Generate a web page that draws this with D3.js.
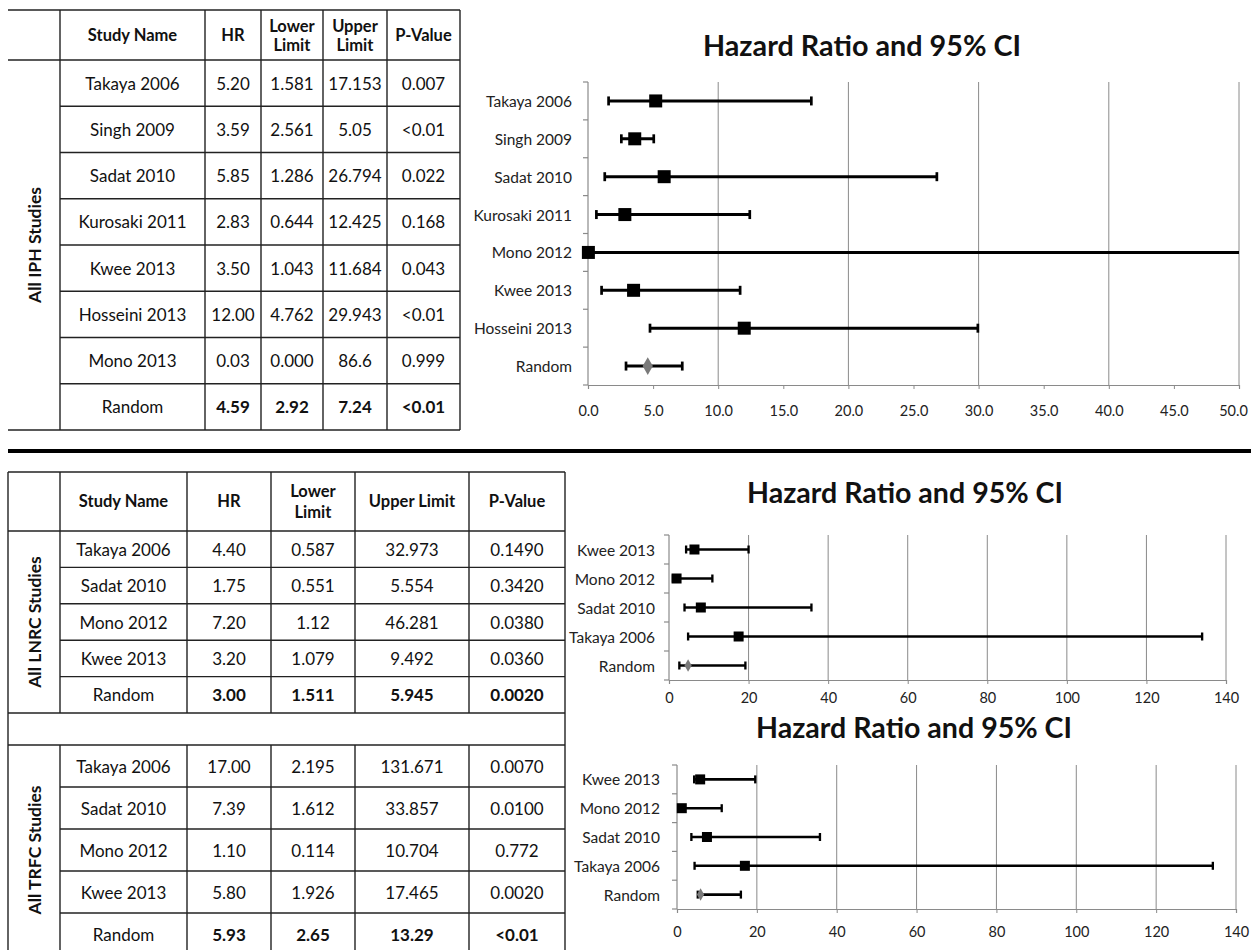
<!DOCTYPE html>
<html><head><meta charset="utf-8">
<script src="https://cdn.jsdelivr.net/npm/d3@7"></script>
<style>body{margin:0;background:#fff} svg{display:block}</style>
</head><body>
<svg id="c" width="1251" height="950"></svg>
<script>
// ---------- Table data: All IPH Studies ----------
const iphStudies = ["Takaya 2006","Singh 2009","Sadat 2010","Kurosaki 2011","Kwee 2013","Hosseini 2013","Mono 2013","Random"];
const iphHR    = ["5.20","3.59","5.85","2.83","3.50","12.00","0.03","4.59"];
const iphLower = ["1.581","2.561","1.286","0.644","1.043","4.762","0.000","2.92"];
const iphUpper = ["17.153","5.05","26.794","12.425","11.684","29.943","86.6","7.24"];
const iphP     = ["0.007","<0.01","0.022","0.168","0.043","<0.01","0.999","<0.01"];

// ---------- Table data: All LNRC Studies ----------
const lnrcStudies = ["Takaya 2006","Sadat 2010","Mono 2012","Kwee 2013","Random"];
const lnrcHR    = ["4.40","1.75","7.20","3.20","3.00"];
const lnrcLower = ["0.587","0.551","1.12","1.079","1.511"];
const lnrcUpper = ["32.973","5.554","46.281","9.492","5.945"];
const lnrcP     = ["0.1490","0.3420","0.0380","0.0360","0.0020"];

// ---------- Table data: All TRFC Studies ----------
const trfcStudies = ["Takaya 2006","Sadat 2010","Mono 2012","Kwee 2013","Random"];
const trfcHR    = ["17.00","7.39","1.10","5.80","5.93"];
const trfcLower = ["2.195","1.612","0.114","1.926","2.65"];
const trfcUpper = ["131.671","33.857","10.704","17.465","13.29"];
const trfcP     = ["0.0070","0.0100","0.772","0.0020","<0.01"];

// ---------- Chart data: top forest plot ----------
const topLabels = ["Takaya 2006","Singh 2009","Sadat 2010","Kurosaki 2011","Mono 2012","Kwee 2013","Hosseini 2013","Random"];
const topHR = [5.20, 3.59, 5.85, 2.83, 0.03, 3.50, 12.00, 4.59];
const topLo = [1.581, 2.561, 1.286, 0.644, 0.0, 1.043, 4.762, 2.92];
const topHi = [17.153, 5.05, 26.794, 12.425, 86.6, 11.684, 29.943, 7.24];
const topTicks = [0,5,10,15,20,25,30,35,40,45,50];
const topGrid = [10,20,30,40,50];

// ---------- Chart data: middle forest plot ----------
const midLabels = ["Kwee 2013","Mono 2012","Sadat 2010","Takaya 2006","Random"];
const midHR = [6.4, 1.9, 8.0, 17.5, 4.8];
const midLo = [4.3, 1.0, 3.9, 4.8, 2.6];
const midHi = [20.0, 10.9, 35.8, 134.0, 19.2];

// ---------- Chart data: bottom forest plot ----------
const botLabels = ["Kwee 2013","Mono 2012","Sadat 2010","Takaya 2006","Random"];
const botHR = [5.8, 1.2, 7.5, 17.0, 5.9];
const botLo = [4.3, 0.4, 3.6, 4.4, 5.2];
const botHi = [19.6, 11.2, 35.8, 134.2, 16.0];
const lowTicks = [0,20,40,60,80,100,120,140];

const FONT = "Lato, 'Open Sans', 'DejaVu Sans', sans-serif";
const svg = d3.select("#c");
svg.append("rect").attr("width",1251).attr("height",950).attr("fill","#fff");

function hline(g, x1, x2, y, w){ g.append("line").attr("x1",x1).attr("x2",x2).attr("y1",y).attr("y2",y).attr("stroke","#222").attr("stroke-width",w||1.4); }
function vline(g, x, y1, y2, w){ g.append("line").attr("x1",x).attr("x2",x).attr("y1",y1).attr("y2",y2).attr("stroke","#222").attr("stroke-width",w||1.4); }

function cellText(g, x, y, txt, bold, size){
  g.append("text").attr("x",x).attr("y",y).attr("text-anchor","middle").attr("dominant-baseline","central")
   .attr("font-family",FONT).attr("font-size",size||17).attr("font-weight",bold?"bold":"normal").attr("fill","#111").text(txt);
}

function headerRow(g, cols, yMid, headers, twoLineGap){
  headers.forEach((h,i)=>{
    const cx = (cols[i+1]+cols[i+2])/2;
    if (h.length===1) cellText(g, cx, yMid, h[0], true, 16.5);
    else { cellText(g, cx, yMid - twoLineGap/2, h[0], true, 16.5); cellText(g, cx, yMid + twoLineGap/2, h[1], true, 16.5); }
  });
}

function bodyRows(g, cols, y, names, cols4, boldLast){
  names.forEach((n,i)=>{
    const cy = y(n) + y.bandwidth()/2;
    const last = i===names.length-1 && boldLast;
    cellText(g, (cols[1]+cols[2])/2, cy, n, false, 17);
    cols4.forEach((arr,j)=>{ cellText(g, (cols[j+2]+cols[j+3])/2, cy, arr[i], last, 17); });
  });
}

function groupLabel(g, x, y, txt){
  g.append("text").attr("transform",`translate(${x},${y}) rotate(-90)`).attr("text-anchor","middle").attr("dominant-baseline","central")
   .attr("font-family",FONT).attr("font-size",17.5).attr("font-weight","bold").attr("fill","#111").text(txt);
}

// ---------------- TOP TABLE ----------------
{
  const g = svg.append("g");
  const cols = [8,60,205,261,323,387,460];
  const y = d3.scaleBand().domain(iphStudies).range([60,430]);
  hline(g, 8, 460, 10); hline(g, 8, 460, 60); hline(g, 8, 460, 430);
  iphStudies.slice(1).forEach(n=>hline(g, 60, 460, y(n)));
  cols.slice(1).forEach(c=>vline(g, c, 10, 430));
  headerRow(g, cols, 35, [["Study Name"],["HR"],["Lower","Limit"],["Upper","Limit"],["P-Value"]], 19);
  bodyRows(g, cols, y, iphStudies, [iphHR, iphLower, iphUpper, iphP], true);
  groupLabel(g, 34, 245, "All IPH Studies");
}

// ---------------- BOTTOM TABLE ----------------
{
  const g = svg.append("g");
  const cols = [8,60,187,271,355,469,565];
  const yL = d3.scaleBand().domain(lnrcStudies).range([531,713]);
  const yT = d3.scaleBand().domain(trfcStudies).range([745,955]);
  [472,531,713,745,955].forEach(v=>hline(g, 8, 565, v));
  lnrcStudies.slice(1).forEach(n=>hline(g, 60, 565, yL(n)));
  trfcStudies.slice(1).forEach(n=>hline(g, 60, 565, yT(n)));
  vline(g, 8, 472, 955); vline(g, 565, 472, 955);
  cols.slice(1,6).forEach(c=>{ vline(g, c, 472, 713); vline(g, c, 745, 955); });
  headerRow(g, cols, 501, [["Study Name"],["HR"],["Lower","Limit"],["Upper Limit"],["P-Value"]], 21);
  bodyRows(g, cols, yL, lnrcStudies, [lnrcHR, lnrcLower, lnrcUpper, lnrcP], true);
  bodyRows(g, cols, yT, trfcStudies, [trfcHR, trfcLower, trfcUpper, trfcP], true);
  groupLabel(g, 34, 622, "All LNRC Studies");
  groupLabel(g, 34, 850, "All TRFC Studies");
}

// Thick separator
svg.append("line").attr("x1",8).attr("x2",1251).attr("y1",451).attr("y2",451).attr("stroke","#000").attr("stroke-width",4);

// ---------------- FOREST PLOTS ----------------
function forest(o){
  const g = svg.append("g");
  const x = d3.scaleLinear().domain(o.domain).range(o.xr).clamp(true);
  const y = d3.scaleBand().domain(o.labels).range(o.yr);
  // title
  g.append("text").attr("x",o.titleX).attr("y",o.titleY).attr("text-anchor","middle").attr("dominant-baseline","central")
    .attr("font-family",FONT).attr("font-size",o.titleSize).attr("font-weight","bold").attr("fill","#111")
    .attr("textLength",o.titleLen).attr("lengthAdjust","spacingAndGlyphs").text("Hazard Ratio and 95% CI");
  // gridlines
  g.selectAll(".grid").data(o.grid).enter().append("line")
    .attr("x1",d=>x(d)).attr("x2",d=>x(d)).attr("y1",o.yr[0]).attr("y2",o.yr[1])
    .attr("stroke","#8a8a8a").attr("stroke-width",1);
  // x axis
  const ax = g.append("g").attr("transform",`translate(0,${o.yr[1]})`)
    .call(d3.axisBottom(x).tickValues(o.ticks).tickFormat(o.fmt).tickSizeOuter(0).tickSize(4).tickPadding(o.tickPad));
  ax.select(".domain").attr("stroke","#8a8a8a").attr("stroke-width",1.2);
  ax.selectAll(".tick line").attr("stroke","#8a8a8a");
  ax.selectAll("text").attr("font-family",FONT).attr("font-size",o.tickSize).attr("fill","#222");
  // keep the last tick label inside the page
  ax.selectAll(".tick").filter(d=>d===o.domain[1]).select("text").attr("dx", o.lastDx||0);
  // y axis line + band ticks
  g.append("line").attr("x1",o.xr[0]).attr("x2",o.xr[0]).attr("y1",o.yr[0]).attr("y2",o.yr[1]).attr("stroke","#8a8a8a").attr("stroke-width",1.2);
  const edges = o.labels.map(l=>y(l)).concat([o.yr[1]]);
  g.selectAll(".yt").data(edges).enter().append("line")
    .attr("x1",o.xr[0]-5).attr("x2",o.xr[0]).attr("y1",d=>d).attr("y2",d=>d).attr("stroke","#8a8a8a").attr("stroke-width",1.2);
  // category labels
  g.selectAll(".lab").data(o.labels).enter().append("text")
    .attr("x",o.xr[0]-o.labGap).attr("y",d=>y(d)+y.bandwidth()/2).attr("text-anchor","end").attr("dominant-baseline","central")
    .attr("font-family",FONT).attr("font-size",o.labSize).attr("fill","#222").text(d=>d);
  // error bars
  const rows = o.labels.map((l,i)=>({l, hr:o.hr[i], lo:o.lo[i], hi:o.hi[i]}));
  const cy = d=>y(d.l)+y.bandwidth()/2;
  g.selectAll(".eb").data(rows).enter().append("line")
    .attr("x1",d=>x(d.lo)).attr("x2",d=>x(d.hi)).attr("y1",cy).attr("y2",cy).attr("stroke","#000").attr("stroke-width",o.sw);
  const caps = [];
  rows.forEach(d=>{ [d.lo,d.hi].forEach(v=>{ if (v>=o.domain[0] && v<=o.domain[1] && v>0.2) caps.push({v, y:cy(d)}); }); });
  g.selectAll(".cap").data(caps).enter().append("line")
    .attr("x1",d=>x(d.v)).attr("x2",d=>x(d.v)).attr("y1",d=>d.y-o.capH/2).attr("y2",d=>d.y+o.capH/2)
    .attr("stroke","#000").attr("stroke-width",o.sw*0.9);
  // markers
  g.selectAll(".sq").data(rows.filter(d=>d.l!=="Random")).enter().append("rect")
    .attr("x",d=>x(d.hr)-o.ms/2).attr("y",d=>cy(d)-o.ms/2).attr("width",o.ms).attr("height",o.ms).attr("fill","#000");
  g.selectAll(".dm").data(rows.filter(d=>d.l==="Random")).enter().append("path")
    .attr("d",d3.symbol(d3.symbolDiamond).size(o.dm))
    .attr("transform",d=>`translate(${x(d.hr)},${cy(d)})`).attr("fill","#7a7a7a");
}

forest({labels:topLabels, hr:topHR, lo:topLo, hi:topHi, domain:[0,50], xr:[588,1239], yr:[82,385],
  ticks:topTicks, grid:topGrid, fmt:d3.format(".1f"), tickPad:17, tickSize:14.5, labSize:15.5, labGap:16, lastDx:-6,
  sw:3, capH:9, ms:13, dm:90, titleX:862, titleY:45, titleSize:28, titleLen:318});

forest({labels:midLabels, hr:midHR, lo:midLo, hi:midHi, domain:[0,140], xr:[669,1226], yr:[535,680],
  ticks:lowTicks, grid:lowTicks.slice(1), fmt:d3.format("d"), tickPad:9, tickSize:14.5, labSize:15.5, labGap:14,
  sw:2.6, capH:8, ms:10, dm:45, titleX:905, titleY:492, titleSize:28, titleLen:316});

forest({labels:botLabels, hr:botHR, lo:botLo, hi:botHi, domain:[0,140], xr:[677,1236], yr:[765,909],
  ticks:lowTicks, grid:lowTicks.slice(1), fmt:d3.format("d"), tickPad:14, tickSize:14.5, labSize:15.5, labGap:17,
  sw:2.6, capH:8, ms:10, dm:45, titleX:914, titleY:727, titleSize:28, titleLen:316});
</script>
</body></html>
